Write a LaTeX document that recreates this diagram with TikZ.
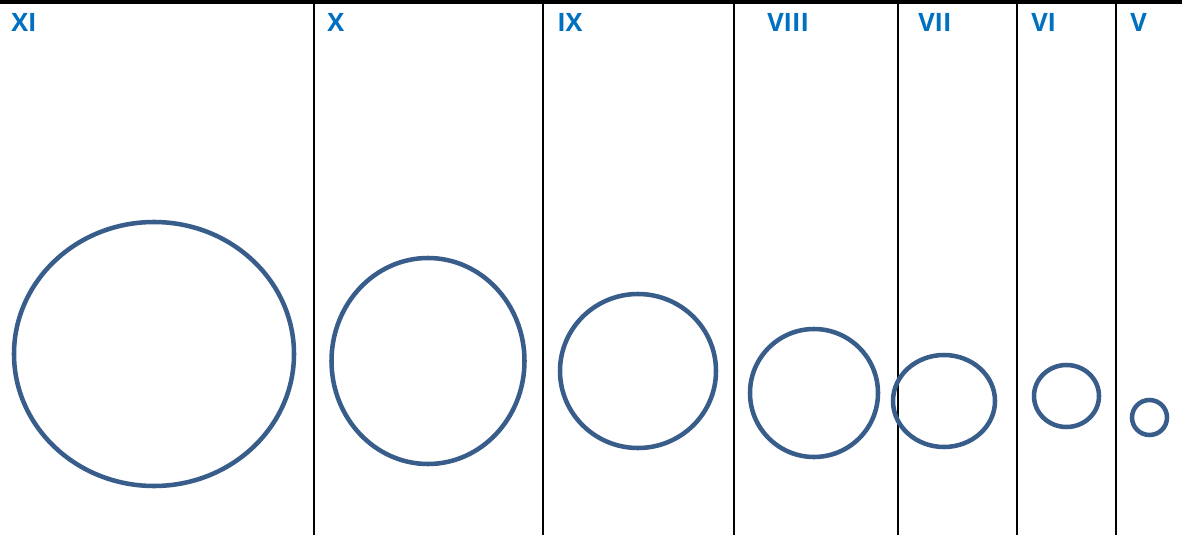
\documentclass[tikz,border=0pt]{standalone}
\usepackage{fontspec}
\setmainfont{Open Sans}
\usepackage{tikz}
\usetikzlibrary{positioning}
\definecolor{lblblue}{RGB}{0,112,192}
\definecolor{ringblue}{RGB}{56,93,138}
\tikzset{
  grade/.style={anchor=base west, inner sep=0pt, text=lblblue,
    font=\fontsize{19}{21}\selectfont\bfseries},
  ring/.style={draw=ringblue, line width=3.4pt},
  divider/.style={draw=black, line width=1.6pt}
}

\begin{document}
\begin{tikzpicture}[x=0.75pt, y=-0.75pt]
  \useasboundingbox (0,0) rectangle (1182,535);
  \fill[black] (0,0) rectangle (1182,4.5);
  \foreach \x in {314,543,734,898,1017,1116} \draw[divider] (\x,4) -- (\x,535);

  \foreach \x/\t in {11/XI,327/X,557/IX,767/VIII,918/VII,1031/VI,1130/V}
    \node[grade] (lbl\t) at (\x,32) {\t};

  \foreach \cx/\cy/\rx/\ry in {154/354/140/132, 428/361/96.5/103, 638/371/78/77,
      814/393/64/64, 944/401/51/46, 1066.5/396/32.5/31, 1149.5/417.5/17.5/17.5}
    \draw[ring] (\cx,\cy) ellipse [x radius=\rx*0.75pt, y radius=\ry*0.75pt];
\end{tikzpicture}
\end{document}
